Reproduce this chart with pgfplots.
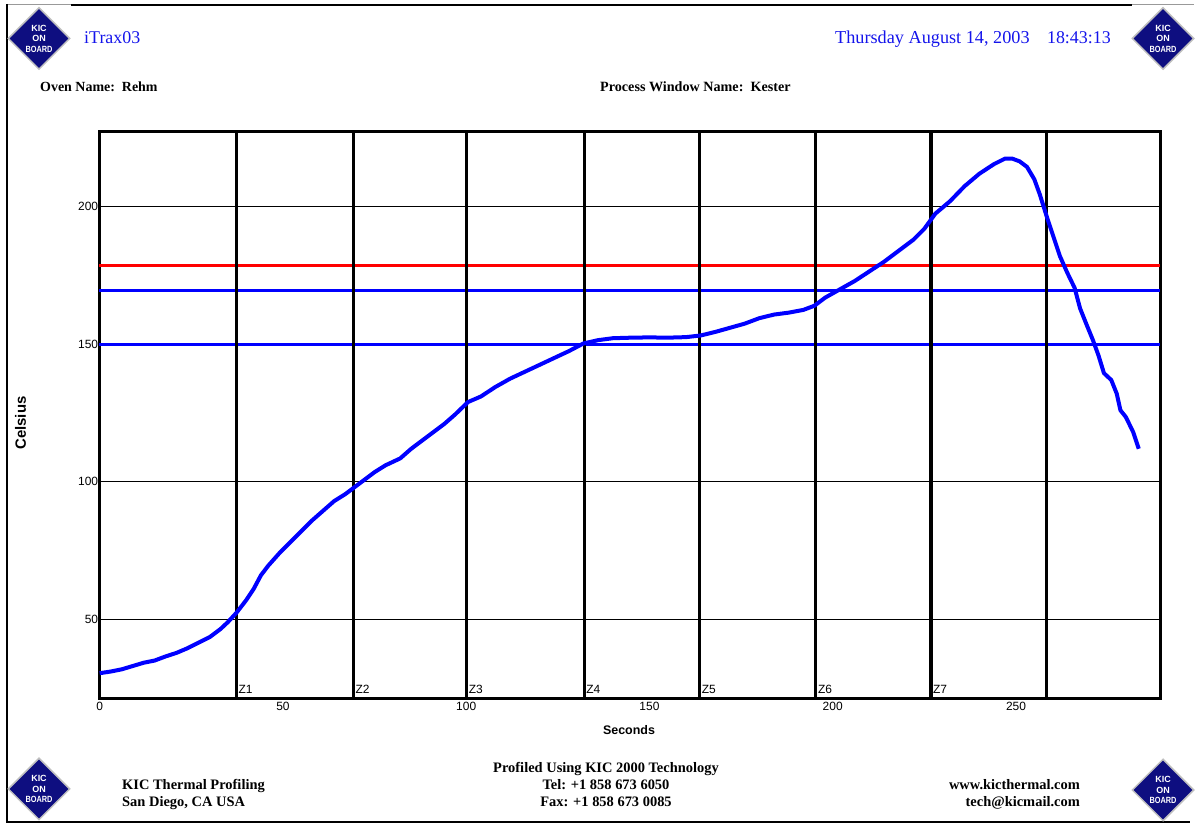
\documentclass[border=0pt]{standalone}
\usepackage{fontspec}
\setmainfont{Liberation Serif}
\setsansfont{Liberation Sans}
\usepackage{pgfplots}
\pgfplotsset{compat=1.18}
\usetikzlibrary{shapes.geometric}

\definecolor{kicnavy}{RGB}{14,14,128}
\definecolor{hdrblue}{RGB}{20,20,235}

% KIC ON BOARD diamond
\newcommand\kiclogo[1]{%
  \node[diamond, fill=kicnavy, draw=black!25, line width=1.5bp,
        minimum width=62bp, minimum height=62bp, inner sep=0pt,
        align=center, text=white,
        font=\sffamily\bfseries\fontsize{9}{10.5}\selectfont] at (#1)
        {KIC\\ON\\\scalebox{0.82}[1]{BOARD}};}

\begin{document}
\begin{tikzpicture}[x=1bp,y=1bp]
\path[use as bounding box] (0,0) rectangle (1196,825);

% page frame
\draw[black!40, line width=1bp] (7,820) -- (1194,820);
\draw[line width=2.5bp] (71,820) -- (1132,820);
\draw[line width=2bp] (7,821) -- (7,3) -- (1190,3);

\kiclogo{39,786.5}
\kiclogo{1163,786.5}
\kiclogo{39,36}
\kiclogo{1163,35}

% header
\node[anchor=base west, inner sep=0, text=hdrblue, font=\fontsize{18}{18}\selectfont] at (84,781) {iTrax03};
\node[anchor=base west, inner sep=0, text=hdrblue, font=\fontsize{18.3}{18}\selectfont] at (835,781) {Thursday August 14, 2003};
\node[anchor=base east, inner sep=0, text=hdrblue, font=\fontsize{18}{18}\selectfont] at (1111,781) {18:43:13};
\node[anchor=base west, inner sep=0, font=\bfseries\fontsize{14}{14}\selectfont] at (40,733) {Oven Name:\ \ Rehm};
\node[anchor=base west, inner sep=0, font=\bfseries\fontsize{14.2}{14}\selectfont] at (600,733) {Process Window Name:\ \ Kester};

% footer
\begin{scope}[every node/.style={inner sep=0, font=\bfseries\fontsize{14.5}{14}\selectfont}]
\node[anchor=base] at (606,52) {Profiled Using KIC 2000 Technology};
\node[anchor=base] at (606,35) {Tel: +1 858 673 6050};
\node[anchor=base] at (606,18) {Fax: +1 858 673 0085};
\node[anchor=base west] at (122,35) {KIC Thermal Profiling};
\node[anchor=base west] at (122,18) {San Diego, CA USA};
\node[anchor=base east] at (1080,35) {www.kicthermal.com};
\node[anchor=base east] at (1080,18) {tech@kicmail.com};
\end{scope}

\begin{axis}[
  at={(99.3bp,126.5bp)}, anchor=south west,
  scale only axis, width=1060.7bp, height=566.8bp,
  xmin=-0.1, xmax=289.3, ymin=21.2, ymax=227.3,
  xtick={0,50,...,250}, ytick={50,100,150,200},
  major tick length=0pt,
  ymajorgrids, grid style={black, line width=1bp},
  axis line style={black, line width=3bp},
  /pgf/number format/assume math mode=true,
  tick label style={font=\sffamily\fontsize{12}{12}\selectfont},
  xticklabel style={inner sep=2bp, yshift=-1bp},
  yticklabel style={inner sep=1bp},
  clip=false,
]
% process window limits
\addplot[red, line width=3.5bp] coordinates {(-0.1,178.7) (289.3,178.7)};
\addplot[blue, line width=3.2bp] coordinates {(-0.1,169.5) (289.3,169.5)};
\addplot[blue, line width=3.2bp] coordinates {(-0.1,149.8) (289.3,149.8)};

% zone boundaries
\pgfplotsforeachungrouped \z in {37.3,69.2,100.1,132.2,163.7,195.4,226.8,258.4}{%
  \edef\tmp{\noexpand\addplot[black, line width=3.2bp] coordinates {(\z,21.2) (\z,227.3)};}\tmp
}

% thermocouple profile
\addplot[blue, line width=4bp, line join=round] coordinates {
(0,30.4) (3,31) (6,31.8) (9,33) (12,34.2) (15,35) (18,36.5) (21,37.8)
(24,39.5) (27,41.5) (30,43.5) (33,46.5) (35,49) (37.4,52.5) (40,57)
(42,61) (44,66) (46,69.5) (49,74) (52,78) (55,82) (58,86) (61,89.5)
(64,93) (67,95.5) (69,97.5) (72,100.5) (75,103.5) (78,106) (82,108.5)
(85,112) (88,115) (91,118) (94,121) (97,124.5) (100.5,129) (104,131)
(108,134.5) (112,137.5) (116,140) (120,142.5) (124,145) (128,147.5)
(132,150.3) (136,151.5) (140,152.2) (145,152.4) (150,152.5) (155,152.4)
(160,152.6) (164,153.2) (168,154.5) (172,156) (176,157.5) (180,159.5)
(184,160.8) (188,161.5) (192,162.5) (195,164) (198,167) (202,170)
(206,173) (210,176.5) (214,180) (218,184) (222,188) (225,192) (228,197.5)
(232,202) (236,207.5) (240,212) (244,215.5) (247,217.5) (249,217.5)
(251,216.5) (253,214.5) (255,210) (256.5,204.5) (258.5,196) (260,190)
(262,182) (264,176) (266,170.5) (267.5,163) (269,158) (271,151.5)
(272.5,146) (274,139.5) (276,137) (277.5,132) (278.5,126) (280,123.5)
(282,118) (283.5,112)
};

% zone names
\begin{scope}[every node/.style={anchor=base west, inner sep=0, font=\sffamily\fontsize{12}{12}\selectfont}]
\node at ([xshift=2bp,yshift=4.5bp]axis cs:37.3,21.2) {Z1};
\node at ([xshift=2bp,yshift=4.5bp]axis cs:69.2,21.2) {Z2};
\node at ([xshift=2bp,yshift=4.5bp]axis cs:100.1,21.2) {Z3};
\node at ([xshift=2bp,yshift=4.5bp]axis cs:132.2,21.2) {Z4};
\node at ([xshift=2bp,yshift=4.5bp]axis cs:163.7,21.2) {Z5};
\node at ([xshift=2bp,yshift=4.5bp]axis cs:195.4,21.2) {Z6};
\node at ([xshift=2bp,yshift=4.5bp]axis cs:226.8,21.2) {Z7};
\end{scope}
\end{axis}

% axis titles
\node[anchor=base, inner sep=0, font=\sffamily\bfseries\fontsize{12.5}{13}\selectfont] at (629,90) {Seconds};
\node[rotate=90, inner sep=0, font=\sffamily\bfseries\fontsize{15}{15}\selectfont] at (20.5,402) {Celsius};
\end{tikzpicture}
\end{document}
